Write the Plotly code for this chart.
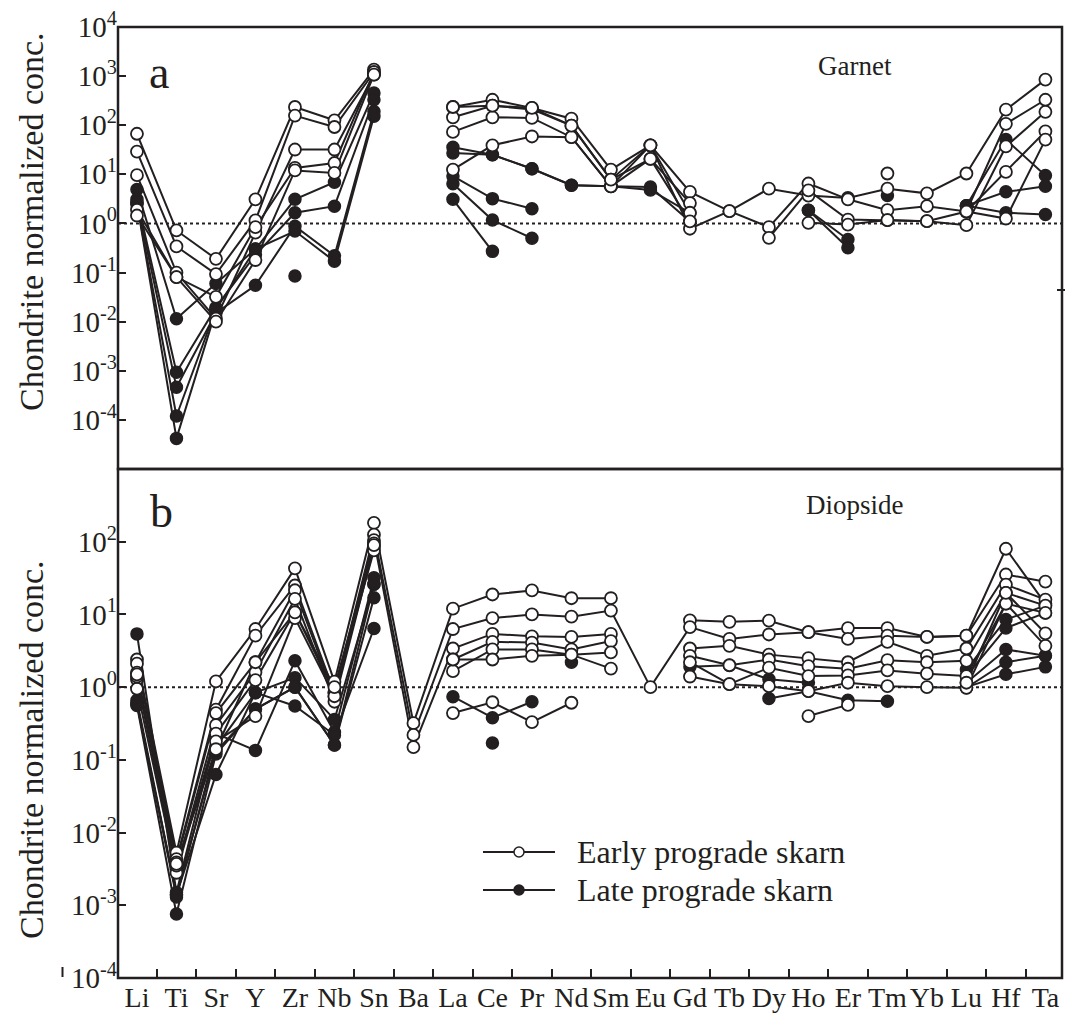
import plotly.graph_objects as go

N = None
elements = ["Li", "Ti", "Sr", "Y", "Zr", "Nb", "Sn", "Ba", "La", "Ce", "Pr", "Nd",
            "Sm", "Eu", "Gd", "Tb", "Dy", "Ho", "Er", "Tm", "Yb", "Lu", "Hf", "Ta"]

# ---- Panel a: Garnet (chondrite-normalized) ----
garnet_early_1 = [67, 0.72, 0.19, 3.1, 235, 126, 1350, N, 235, 330, 225, 136, 12.5, 39, 4.4, 1.78, 5.1, 3.7, 3.3, 5.1, 4.1, 10.4, 207, 850]
garnet_early_2 = [29, 0.34, 0.093, 1.15, 157, 92, 1200, N, 145, 250, 210, 98, 7.8, 39, 0.78, 1.78, 0.84, 6.5, 3.1, 1.86, 2.25, 1.75, 107, 330]
garnet_early_3 = [9.6, 0.10, 0.0115, 0.65, 32, 32, 1070, N, 73, 145, 141, 57, 5.7, 20.6, 2.6, N, 0.51, 4.7, 1.2, 1.17, 1.11, 0.92, 37, 187]
garnet_early_4 = [1.9, 0.081, 0.032, 0.84, 13.5, 17, 1200, N, 12.5, 39, 59, 57, 5.7, 39, 1.65, N, N, 1.03, 0.95, 1.17, 1.11, 1.75, 11.2, 75]
garnet_early_5 = [1.45, 0.081, 0.010, 0.18, 12, 10.7, 1070, N, 235, 250, 225, 98, 7.8, 20.6, 1.1, N, N, N, N, 10.4, N, 1.75, 1.26, 51]

garnet_late_1 = [4.9, 0.0115, 0.06, 0.3, 3.1, 6.9, 455, N, 35.5, 25, 13, 6.0, 5.7, 5.5, 1.1, N, N, 1.86, 0.47, N, N, 2.3, 51, 9.5]
garnet_late_2 = [3.1, 0.00093, 0.0195, 0.23, 1.65, 2.25, 330, N, 27.3, 25, 13, 6.0, 5.7, 4.8, 1.65, N, N, 1.86, 0.32, N, N, 2.3, 4.4, 5.7]
garnet_late_3 = [2.7, 0.00046, 0.015, 0.055, 0.88, 0.22, 190, N, 9.2, 3.2, 2.0, N, N, N, N, N, N, N, N, 3.7, N, 2.3, 1.65, 1.52]
garnet_late_4 = [2.5, 0.00012, 0.018, 0.3, 0.7, 0.17, 152, N, 6.4, 1.17, 0.50, N, N, N, N, N, N, N, N, N, N, N, N, N]
garnet_late_5 = [2.6, 0.000042, 0.017, N, 0.085, N, N, N, 3.1, 0.27, N, N, N, N, N, N, N, N, N, N, N, N, N, N]

# ---- Panel b: Diopside (chondrite-normalized) ----
diopside_early_1 = [2.4, 0.0053, 1.2, 6.3, 43, 1.19, 182, 0.32, 12, 18.8, 21.4, 16.7, 16.7, N, 8.3, 7.9, 8.2, 5.7, 6.5, 6.5, 4.9, 5.1, 80, 14]
diopside_early_2 = [2.1, 0.0043, 0.49, 5.1, 25, 0.84, 125, 0.22, 6.3, 8.9, 10, 9.3, 11.3, 1.0, 6.7, 4.6, 5.3, 5.7, 4.6, 5.1, 4.9, 5.1, 35.4, 28.2]
diopside_early_3 = [1.58, 0.0039, 0.44, 2.2, 21.5, 0.75, 105, 0.15, 3.4, 5.4, 5.0, 4.9, 5.4, N, 3.4, 3.7, 2.8, 2.5, 2.2, 4.2, 2.7, 3.4, 25.7, 16]
diopside_early_4 = [1.27, 0.0031, 0.30, 1.6, 16.4, 0.63, 85, N, 2.4, 4.2, 4.1, 3.3, 4.3, N, 2.7, 2.0, 2.4, 1.94, 1.79, 2.35, 2.2, 2.3, 19.8, 13.2]
diopside_early_5 = [0.95, 0.0028, 0.23, 1.25, 10.7, 0.84, 76, N, 1.66, 3.3, 3.3, 2.8, 3.0, N, 2.2, 1.1, 1.85, 1.42, 1.45, 1.7, 1.53, 1.42, 14.1, 10.5]
diopside_early_6 = [1.4, 0.0035, 0.18, 0.40, 8.9, 0.75, 95, N, 2.4, 2.4, 2.7, 2.8, 1.8, N, 1.4, 1.1, 1.03, 0.88, 1.15, 1.03, 1.0, 0.98, 14.1, 3.7]
diopside_early_7 = [1.5, 0.0037, 0.14, 2.2, 10.7, 1.0, 90, N, 0.44, 0.62, 0.33, 0.61, N, N, N, N, N, 0.40, 0.57, N, N, 1.15, 19.8, 5.5]

diopside_late_1 = [5.4, 0.0015, 0.23, 0.135, 2.3, 0.24, 32, N, 0.74, 0.38, 0.63, N, N, N, 1.9, 2.0, 1.28, 1.15, N, N, N, 1.75, 8.5, 13.2]
diopside_late_2 = [0.66, 0.0014, 0.063, 0.84, 1.35, 0.36, 26, N, N, 0.17, N, 2.2, N, N, N, N, 0.70, 0.88, 0.66, 0.64, N, 1.42, 6.5, 10.5]
diopside_late_3 = [0.56, 0.00076, 0.12, 0.5, 1.0, 0.16, 17, N, N, N, N, N, N, N, N, N, N, N, N, N, N, 1.15, 3.3, 2.7]
diopside_late_4 = [0.6, 0.0013, 0.15, 0.84, 0.55, 0.22, 6.4, N, N, N, N, N, N, N, N, N, N, N, N, N, N, 0.98, 2.2, 2.7]
diopside_late_5 = [0.58, 0.0014, 0.13, 0.5, 1.0, 0.16, 26, N, N, N, N, N, N, N, N, N, N, N, N, N, N, 1.0, 1.5, 1.9]

garnet_early = [garnet_early_1, garnet_early_2, garnet_early_3, garnet_early_4, garnet_early_5]
garnet_late = [garnet_late_1, garnet_late_2, garnet_late_3, garnet_late_4, garnet_late_5]
diopside_early = [diopside_early_1, diopside_early_2, diopside_early_3, diopside_early_4,
                  diopside_early_5, diopside_early_6, diopside_early_7]
diopside_late = [diopside_late_1, diopside_late_2, diopside_late_3, diopside_late_4, diopside_late_5]

INK = "#231f20"
FONT = "Liberation Serif, Times New Roman, serif"

fig = go.Figure()

panels = [("y", garnet_early, garnet_late), ("y2", diopside_early, diopside_late)]

# lines first
for yax, early, late in panels:
    for s in late + early:
        fig.add_trace(go.Scatter(x=elements, y=s, xaxis="x", yaxis=yax, mode="lines",
                                 line=dict(color=INK, width=2), connectgaps=False,
                                 showlegend=False, hoverinfo="skip"))
# markers on top
for yax, early, late in panels:
    for s in late:
        fig.add_trace(go.Scatter(x=elements, y=s, xaxis="x", yaxis=yax, mode="markers",
                                 marker=dict(symbol="circle", size=12, color=INK,
                                             line=dict(color=INK, width=1.5)),
                                 showlegend=False))
    for s in early:
        fig.add_trace(go.Scatter(x=elements, y=s, xaxis="x", yaxis=yax, mode="markers",
                                 marker=dict(symbol="circle", size=12, color="white",
                                             line=dict(color=INK, width=1.8)),
                                 showlegend=False))

# geometry (pixels -> paper)
L, R, T, B = 118, 5, 27, 39
W, H = 1067, 1017
PW, PH = W - L - R, H - T - B
def px(x):
    return (x - L) / PW
def py(y):
    return (H - B - y) / PH

split = py(469)

def sup_ticks(exps):
    return [10.0 ** e for e in exps], ["10<sup>%d</sup>" % e for e in exps]

tva, tta = sup_ticks(range(-4, 5))
tvb, ttb = sup_ticks(range(-4, 3))

axis_common = dict(showgrid=False, zeroline=False, showline=False, ticks="inside",
                   ticklen=8, tickwidth=2, tickcolor=INK,
                   tickfont=dict(family=FONT, size=29, color=INK))

fig.update_layout(
    width=W, height=H,
    margin=dict(l=L, r=R, t=T, b=B, autoexpand=False),
    paper_bgcolor="white", plot_bgcolor="white",
    showlegend=False,
    xaxis=dict(type="category", categoryorder="array", categoryarray=elements,
               range=[-0.48, 23.42], tickson="boundaries", anchor="y2",
               showgrid=False, zeroline=False, showline=False, ticks="inside",
               ticklen=9, tickwidth=2, tickcolor=INK, tickangle=0,
               tickfont=dict(family=FONT, size=28, color=INK), domain=[0, 1]),
    yaxis=dict(type="log", range=[-5, 4], domain=[split, 1], anchor="x",
               tickmode="array", tickvals=tva, ticktext=tta, **axis_common),
    yaxis2=dict(type="log", range=[-4, 3], domain=[0, split], anchor="x",
                tickmode="array", tickvals=tvb, ticktext=ttb, **axis_common),
)

shapes = [
    dict(type="rect", xref="paper", yref="paper", x0=0, x1=1, y0=split, y1=1,
         line=dict(color=INK, width=2.5), layer="above"),
    dict(type="rect", xref="paper", yref="paper", x0=0, x1=1, y0=0, y1=split,
         line=dict(color=INK, width=2.5), layer="above"),
    dict(type="line", xref="paper", yref="y", x0=0, x1=1, y0=1, y1=1,
         line=dict(color=INK, width=2, dash="dot"), layer="below"),
    dict(type="line", xref="paper", yref="y2", x0=0, x1=1, y0=1, y1=1,
         line=dict(color=INK, width=2, dash="dot"), layer="below"),
    # small stray tick marks present in the original figure
    dict(type="line", xref="paper", yref="paper", x0=px(1057), x1=px(1065), y0=py(290), y1=py(290),
         line=dict(color=INK, width=2)),
    dict(type="line", xref="paper", yref="paper", x0=px(62.5), x1=px(62.5), y0=py(977), y1=py(967),
         line=dict(color=INK, width=2)),
]

# custom legend glyphs
for yy, fill in [(852, "white"), (890, INK)]:
    shapes.append(dict(type="line", xref="paper", yref="paper", x0=px(483), x1=px(555),
                       y0=py(yy), y1=py(yy), line=dict(color=INK, width=2)))
    shapes.append(dict(type="circle", xref="paper", yref="paper", xsizemode="pixel",
                       ysizemode="pixel", xanchor=px(519), yanchor=py(yy),
                       x0=-5, x1=5, y0=-5, y1=5, fillcolor=fill,
                       line=dict(color=INK, width=1.5)))
fig.update_layout(shapes=shapes)

ann = [
    dict(text="a", x=px(159), y=py(72), font=dict(size=46)),
    dict(text="b", x=px(161), y=py(512), font=dict(size=46)),
    dict(text="Garnet", x=px(855), y=py(66), font=dict(size=27)),
    dict(text="Diopside", x=px(855), y=py(505), font=dict(size=27)),
    dict(text="Chondrite normalized conc.", x=px(32), y=py(222), textangle=-90, font=dict(size=34)),
    dict(text="Chondrite normalized conc.", x=px(32), y=py(750), textangle=-90, font=dict(size=34)),
    dict(text="Early prograde skarn", x=px(575), y=py(852), xanchor="left", font=dict(size=32)),
    dict(text="Late prograde skarn", x=px(575), y=py(890), xanchor="left", font=dict(size=32)),
]
for a in ann:
    a.setdefault("xanchor", "center")
    a["font"] = dict(family=FONT, color=INK, size=a["font"]["size"])
    fig.add_annotation(xref="paper", yref="paper", showarrow=False, yanchor="middle", **a)

fig.write_html("out.html")
